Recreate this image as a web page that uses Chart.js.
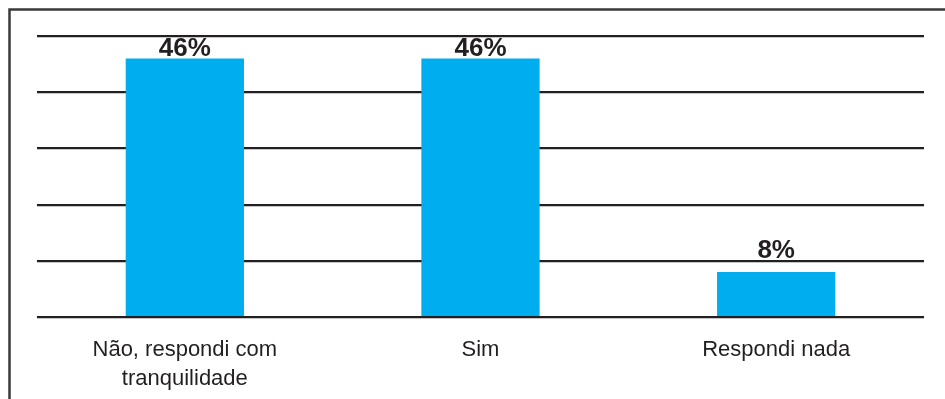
<!DOCTYPE html>
<html>
<head>
<meta charset="utf-8">
<script src="https://cdn.jsdelivr.net/npm/chart.js@4"></script>
<style>
  body { margin: 0; background: #fff; }
  canvas { display: block; }
</style>
</head>
<body>
<canvas id="chart" width="945" height="399"></canvas>
<script>
const categories = [["Não, respondi com", "tranquilidade"], "Sim", "Respondi nada"];
const values = [46, 46, 8];
const valueLabels = ["46%", "46%", "8%"];

const ctx = document.querySelector("#chart").getContext("2d");

// frame on the left and top
const framePlugin = {
  id: "frame",
  beforeDraw(chart) {
    const c = chart.ctx;
    c.save();
    c.fillStyle = "#fff";
    c.fillRect(0, 0, chart.width, chart.height);
    c.strokeStyle = "#3a3a3a";
    c.lineWidth = 2.5;
    c.beginPath();
    c.moveTo(9.5, chart.height);
    c.lineTo(9.5, 9.5);
    c.lineTo(chart.width, 9.5);
    c.stroke();
    c.restore();
  }
};

// value labels above bars
const valuePlugin = {
  id: "values",
  afterDatasetsDraw(chart, args, opts) {
    const c = chart.ctx;
    const meta = chart.getDatasetMeta(0);
    c.save();
    c.font = "bold 26px 'Liberation Sans', Arial, sans-serif";
    c.fillStyle = "#231f20";
    c.textAlign = "center";
    c.textBaseline = "alphabetic";
    meta.data.forEach((bar, i) => {
      const off = bar.y < 80 ? opts.nearTop : opts.normal;
      c.fillText(valueLabels[i], bar.x, bar.y - off);
    });
    c.restore();
  }
};

new Chart(ctx, {
  type: "bar",
  data: {
    labels: categories,
    datasets: [{
      data: values,
      backgroundColor: "#00aeef",
      borderWidth: 0,
      barPercentage: 0.4,
      categoryPercentage: 1
    }]
  },
  options: {
    responsive: false,
    animation: false,
    layout: { padding: { left: 37, right: 21, top: 36, bottom: 0 } },
    plugins: {
      legend: { display: false },
      tooltip: { enabled: false },
      values: { nearTop: 2, normal: 14 }
    },
    scales: {
      x: {
        grid: { display: false },
        border: { display: false },
        afterFit(scale) { scale.height = 82; },
        ticks: {
          color: "#231f20",
          font: { family: "'Liberation Sans', Arial, sans-serif", size: 22, lineHeight: 1.32 },
          padding: 10,
          maxRotation: 0
        }
      },
      y: {
        min: 0,
        max: 50,
        ticks: { display: false, stepSize: 10 },
        border: { display: false },
        grid: { color: "#231f20", lineWidth: 2.2, drawTicks: false }
      }
    }
  },
  plugins: [framePlugin, valuePlugin]
});
</script>
</body>
</html>
